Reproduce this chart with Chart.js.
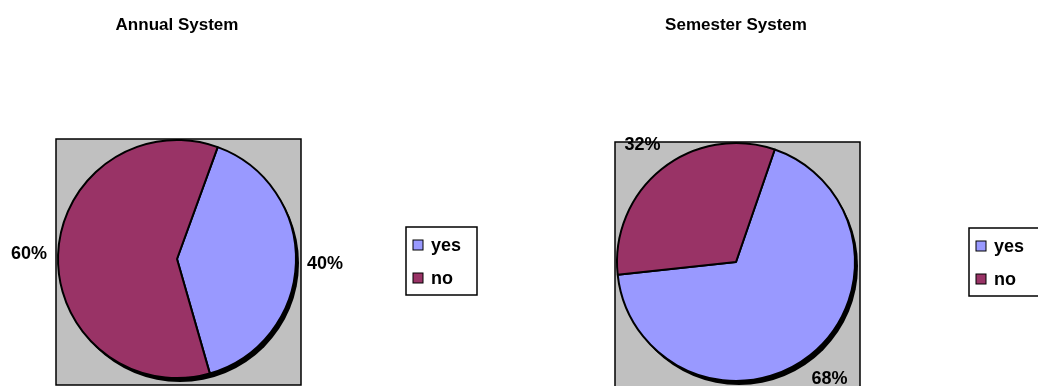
<!DOCTYPE html>
<html>
<head>
<meta charset="utf-8">
<script src="https://cdn.jsdelivr.net/npm/chart.js@4"></script>
<style>
  html, body { margin: 0; padding: 0; background: #fff; }
  #wrap { position: relative; width: 1038px; height: 386px; overflow: hidden; }
  canvas { position: absolute; top: 0; }
</style>
</head>
<body>
<div id="wrap">
  <canvas id="annual" width="519" height="386" style="left:0"></canvas>
  <canvas id="semester" width="519" height="386" style="left:519px"></canvas>
</div>
<script>
// ---- data ----
const categories     = ['yes', 'no'];
const annualValues   = [40, 60];
const semesterValues = [68, 32];
const titles         = ['Annual System', 'Semester System'];
const sliceColors    = ['#9999FF', '#993366'];

const FONT = '"Liberation Sans", Arial, sans-serif';

/* ── plugin: gray plot square, shadow, outside labels, boxed legend ── */
const excelPie = {
  id: 'excelPie',
  beforeDatasetsDraw(chart, args, opts) {
    const arc = chart.getDatasetMeta(0).data[0];
    if (!arc) return;
    const { x, y, outerRadius: r } = arc.getProps(['x', 'y', 'outerRadius'], true);
    const ctx = chart.ctx;
    ctx.save();
    // plot area square
    const l = x - r - 2, t = y - r - 1, w = 2 * r + 7, h = 2 * r + 8;
    ctx.fillStyle = '#C0C0C0';
    ctx.fillRect(l, t, w, h);
    ctx.strokeStyle = '#000';
    ctx.lineWidth = 1.5;
    ctx.strokeRect(l, t, w, h);
    // pie shadow
    ctx.fillStyle = '#000';
    ctx.beginPath();
    ctx.arc(x + 3, y + 4, r, 0, Math.PI * 2);
    ctx.fill();
    ctx.restore();
  },
  afterDraw(chart, args, opts) {
    const meta = chart.getDatasetMeta(0);
    const values = chart.data.datasets[0].data;
    const total = values.reduce((a, b) => a + b, 0);
    const ctx = chart.ctx;
    ctx.save();
    ctx.fillStyle = '#000';
    ctx.font = 'bold 18px ' + FONT;
    ctx.textAlign = 'center';
    ctx.textBaseline = 'middle';
    let cx = 0, cy = 0;
    meta.data.forEach((a, i) => {
      const p = a.getProps(['x', 'y', 'startAngle', 'endAngle', 'outerRadius'], true);
      cx = p.x; cy = p.y;
      const mid = (p.startAngle + p.endAngle) / 2;
      const rr = p.outerRadius + opts.labelGap;
      const txt = Math.round(values[i] / total * 100) + '%';
      ctx.fillText(txt, p.x + Math.cos(mid) * rr, p.y + Math.sin(mid) * rr);
    });

    // legend box
    const lx = cx + opts.legendDX, ly = cy + opts.legendDY;
    ctx.strokeStyle = '#000';
    ctx.lineWidth = 1.5;
    ctx.fillStyle = '#fff';
    ctx.fillRect(lx, ly, 71, 68);
    ctx.strokeRect(lx, ly, 71, 68);
    ctx.textAlign = 'left';
    chart.data.labels.forEach((lab, i) => {
      const iy = ly + 18 + i * 33;
      ctx.fillStyle = chart.data.datasets[0].backgroundColor[i];
      ctx.fillRect(lx + 7, iy - 5, 10, 10);
      ctx.lineWidth = 1;
      ctx.strokeRect(lx + 7, iy - 5, 10, 10);
      ctx.fillStyle = '#000';
      ctx.fillText(lab, lx + 25, iy + 1);
    });
    ctx.restore();
  }
};

function makePie(id, title, values, rotation, pad, titleBottom, legendDX, legendDY, gap) {
  return new Chart(document.getElementById(id), {
    type: 'pie',
    data: {
      labels: categories,
      datasets: [{
        data: values,
        backgroundColor: sliceColors,
        borderColor: '#000',
        borderWidth: 2,
      }],
    },
    options: {
      responsive: false,
      animation: false,
      rotation: rotation,
      layout: { padding: pad },
      plugins: {
        legend: { display: false },
        tooltip: { enabled: false },
        title: {
          display: true,
          text: title,
          fullSize: false,
          color: '#000',
          font: { family: FONT, size: 17, weight: 'bold', lineHeight: 1.2 },
          padding: { top: 15, bottom: titleBottom },
        },
        excelPie: { labelGap: gap, legendDX, legendDY },
      },
    },
    plugins: [excelPie],
  });
}

makePie('annual', titles[0], annualValues, 20,
  { left: 57, right: 222, top: 0, bottom: 7 }, 103.6, 229, -32, 29);
makePie('semester', titles[1], semesterValues, 19,
  { left: 97, right: 182, top: 0, bottom: 4 }, 106.6, 233, -34, 31);
</script>
</body>
</html>
